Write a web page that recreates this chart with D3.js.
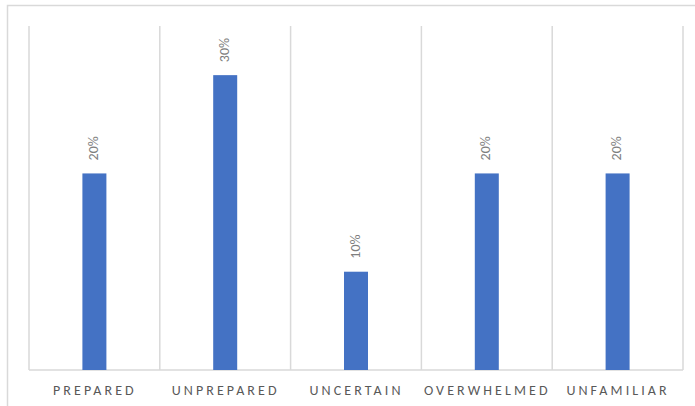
<!DOCTYPE html>
<html>
<head>
<meta charset="utf-8">
<script src="https://cdn.jsdelivr.net/npm/d3@7"></script>
<style>
  html, body { margin: 0; padding: 0; background: #fff; }
  svg { display: block; font-family: Calibri, Carlito, "Open Sans", "Liberation Sans", sans-serif; }
</style>
</head>
<body>
<svg id="chart" width="695" height="406"></svg>
<script>
const categories = ["PREPARED", "UNPREPARED", "UNCERTAIN", "OVERWHELMED", "UNFAMILIAR"];
const values = [20, 30, 10, 20, 20];
const valueLabels = ["20%", "30%", "10%", "20%", "20%"];

const svg = d3.select("#chart");
const W = 695, H = 406;
const margin = { left: 29, right: 12, top: 26, bottom: 36 };
const plotW = W - margin.left - margin.right;
const baseY = H - margin.bottom;

// chart frame
svg.append("rect")
  .attr("x", 7.5).attr("y", 5.5)
  .attr("width", 700).attr("height", 420)
  .attr("fill", "none").attr("stroke", "#d9d9d9").attr("stroke-width", 1.5);

const x = d3.scaleBand().domain(categories)
  .range([margin.left, margin.left + plotW]).paddingInner(0).paddingOuter(0);
const y = d3.scaleLinear().domain([0, 35]).range([baseY, margin.top]);

// vertical category gridlines
const bounds = categories.map(c => x(c)).concat([x.range()[1]]);
svg.append("g").selectAll("line").data(bounds).join("line")
  .attr("x1", d => d).attr("x2", d => d)
  .attr("y1", margin.top).attr("y2", baseY)
  .attr("stroke", "#d9d9d9").attr("stroke-width", 1.5);

// baseline
svg.append("line")
  .attr("x1", x.range()[0]).attr("x2", x.range()[1])
  .attr("y1", baseY).attr("y2", baseY)
  .attr("stroke", "#d9d9d9").attr("stroke-width", 1.5);

const barW = 24;
svg.append("g").selectAll("rect").data(values).join("rect")
  .attr("x", (d, i) => x(categories[i]) + x.bandwidth() / 2 - barW / 2)
  .attr("y", d => y(d))
  .attr("width", barW)
  .attr("height", d => baseY - y(d))
  .attr("fill", "#4472c4");

// value labels, rotated
svg.append("g").selectAll("text").data(values).join("text")
  .attr("transform", (d, i) => `translate(${x(categories[i]) + x.bandwidth() / 2 + 3.5},${y(d) - 13}) rotate(-90)`)
  .attr("text-anchor", "start")
  .attr("font-size", 14)
  .attr("fill", "#7f7f7f")
  .text((d, i) => valueLabels[i]);

// category axis labels
svg.append("g").selectAll("text").data(categories).join("text")
  .attr("x", d => x(d) + x.bandwidth() / 2 + 0.5)
  .attr("y", baseY + 25)
  .attr("text-anchor", "middle")
  .attr("font-size", 14)
  .attr("letter-spacing", "3.1px")
  .attr("fill", "#595959")
  .text(d => d);
</script>
</body>
</html>
